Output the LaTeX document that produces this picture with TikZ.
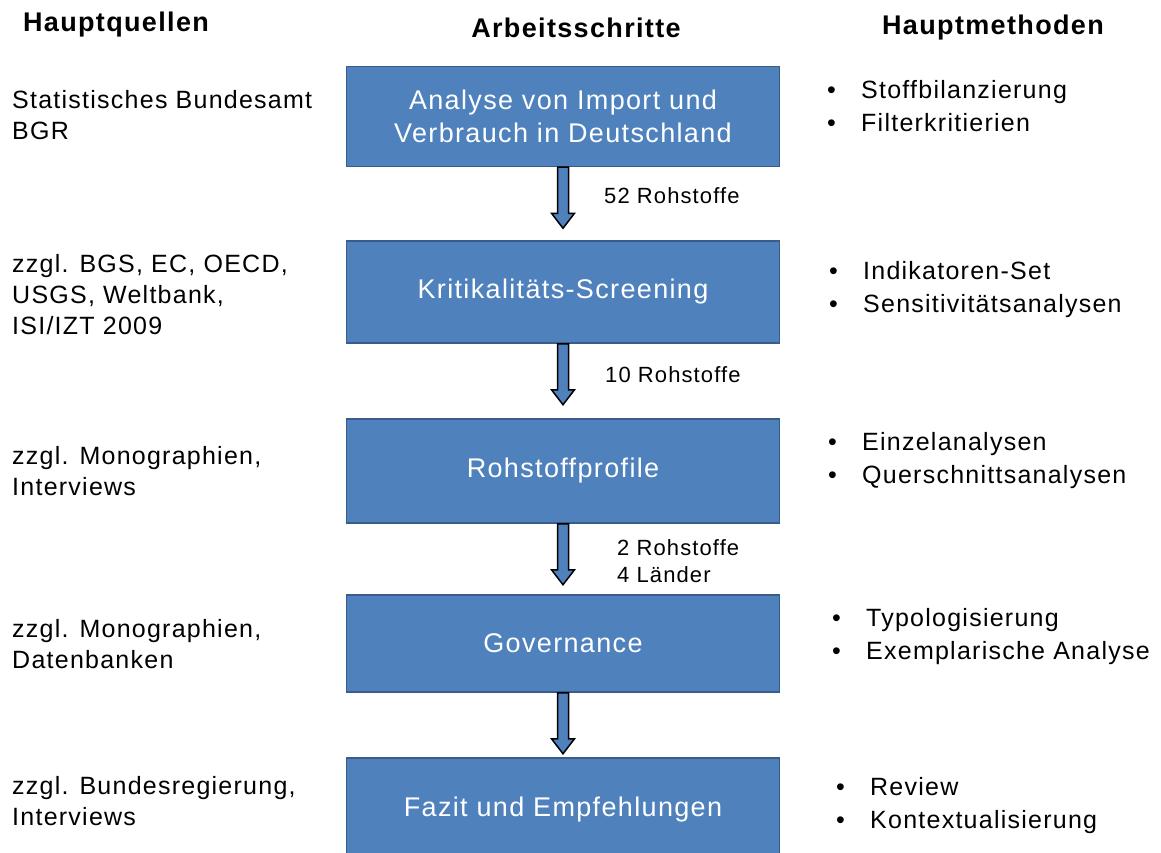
\documentclass[tikz,border=0pt]{standalone}
\usepackage{fontspec}
\setmainfont[LetterSpace=5]{Liberation Sans}
\usepackage{xcolor}
\usetikzlibrary{calc}

\definecolor{kastenblau}{HTML}{4F81BD}
\definecolor{randblau}{HTML}{385D8A}

% fat arrow below a box, pointing towards the next one
\newcommand{\pfeil}[2]{%
  \draw[pfeilform] let \p1=(#1.south), \p2=($(#1.south)!61pt!(#2.north)$) in
    (\x1-5.5pt,\y1) -- (\x1+5.5pt,\y1) -- (\x1+5.5pt,\y2+15pt) -- (\x1+11.5pt,\y2+15pt)
    -- (\x1,\y2) -- (\x1-11.5pt,\y2+15pt) -- (\x1-5.5pt,\y2+15pt) -- cycle;}

\newcommand{\punkte}[2]{%
  \begin{tabular}{@{}p{34pt}@{}l@{}}\textbullet & #1\\ \textbullet & #2\end{tabular}}

\begin{document}
\begin{tikzpicture}[x=1pt,y=-1pt,
    schritt/.style={draw=randblau, line width=1.5pt, fill=kastenblau, text=white,
      minimum width=433pt, minimum height=100pt, align=center, inner sep=0pt,
      font=\fontsize{27}{33}\selectfont},
    kopf/.style={inner sep=0pt, font=\bfseries\fontsize{27}{30}\selectfont},
    quelle/.style={anchor=west, align=left, inner sep=0pt, font=\fontsize{25}{31}\selectfont},
    methode/.style={anchor=west, inner sep=0pt, font=\fontsize{25}{33}\selectfont},
    menge/.style={anchor=west, align=left, inner sep=0pt, font=\fontsize{22}{27}\selectfont},
    pfeilform/.style={draw=black, line width=1.5pt, fill=kastenblau}]

    \useasboundingbox (0,0) rectangle (1161,853);

    %===========================
    % Headings
    %===========================
    \node (kq) at (116,25) [kopf] {Hauptquellen};
    \node (ka) at (576,28) [kopf] {Arbeitsschritte};
    \node (km) at (993,28) [kopf] {Hauptmethoden};

    %===========================
    % Steps
    %===========================
    \node (S1) at (563,116.5) [schritt] {Analyse von Import und\\Verbrauch in Deutschland};
    \node (S2) at (563,292) [schritt, minimum height=102pt] {Kritikalitäts-Screening};
    \node (S3) at (563,471) [schritt, minimum height=104pt] {Rohstoffprofile};
    \node (S4) at (563,643.5) [schritt, minimum height=97pt] {Governance};
    \node (S5) at (563,810) [schritt, minimum height=104pt] {Fazit und Empfehlungen};

    \pfeil{S1}{S2}
    \pfeil{S2}{S3}
    \pfeil{S3}{S4}
    \pfeil{S4}{S5}

    \node (M1) at (604,196) [menge] {52 Rohstoffe};
    \node (M2) at (605,375) [menge] {10 Rohstoffe};
    \node (M3) at (617,561) [menge] {2 Rohstoffe\\4 Länder};

    %===========================
    % Sources
    %===========================
    \node (Q1) at (12,115) [quelle] {Statistisches Bundesamt\\BGR};
    \node (Q2) at (12,295) [quelle] {zzgl. BGS, EC, OECD,\\USGS, Weltbank,\\ISI/IZT 2009};
    \node (Q3) at (12,471) [quelle] {zzgl. Monographien,\\Interviews};
    \node (Q4) at (12,644) [quelle] {zzgl. Monographien,\\Datenbanken};
    \node (Q5) at (12,801) [quelle] {zzgl. Bundesregierung,\\Interviews};

    %===========================
    % Methods
    %===========================
    \node (H1) at (827,108) [methode] {\punkte{Stoffbilanzierung}{Filterkritierien}};
    \node (H2) at (829,289) [methode] {\punkte{Indikatoren-Set}{Sensitivitätsanalysen}};
    \node (H3) at (828,460) [methode] {\punkte{Einzelanalysen}{Querschnittsanalysen}};
    \node (H4) at (832,636) [methode] {\punkte{Typologisierung}{Exemplarische Analyse}};
    \node (H5) at (836,805) [methode] {\punkte{Review}{Kontextualisierung}};

\end{tikzpicture}
\end{document}
